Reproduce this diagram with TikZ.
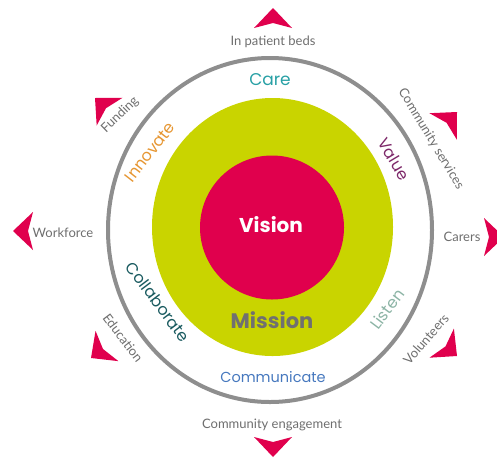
\documentclass[tikz,border=0pt]{standalone}
\usepackage{fontspec}
\setmainfont{Poppins}
\newfontfamily\handfont{Lato}

\definecolor{visionred}{RGB}{224,0,77}
\definecolor{missiongreen}{RGB}{201,212,0}
\definecolor{ringgray}{RGB}{142,142,142}
\definecolor{careteal}{RGB}{40,160,165}
\definecolor{commblue}{RGB}{70,120,190}
\definecolor{innoorange}{RGB}{230,150,50}
\definecolor{valueplum}{RGB}{125,40,105}
\definecolor{collabteal}{RGB}{25,90,95}
\definecolor{listensage}{RGB}{140,180,165}
\definecolor{missiongray}{RGB}{112,112,112}
\definecolor{handgray}{RGB}{110,110,110}

\tikzset{
  core/.style = {font = \fontsize{21}{21}\selectfont\bfseries, inner sep = 0pt},
  value/.style = {font = \fontsize{16}{16}\selectfont, inner sep = 0pt},
  area/.style = {font = \handfont\fontsize{13}{13}\selectfont, text = handgray, inner sep = 0pt},
  pointer/.pic = {\fill [visionred] (0,0) -- (-20,19) -- (-15,0) -- (-20,-19) -- cycle;}
}

\begin{document}
\begin{tikzpicture}[x = 1pt, y = -1pt]
    \useasboundingbox (0,0) rectangle (497,459);

    % rings
    \fill [missiongreen] (272.5,227) ellipse [x radius = 120.5pt, y radius = 129pt];
    \fill [visionred] (272,227.5) circle [radius = 72pt];
    \draw [ringgray, line width = 4pt] (270,230) ellipse [x radius = 162pt, y radius = 172pt];

    % core
    \node [core, text = white, font = \fontsize{20}{20}\selectfont\bfseries] (vision) at (271,225) {Vision};
    \node [core, text = missiongray] (mission) at (272,320) {Mission};

    % values
    \node [value, text = careteal, font = \fontsize{17}{17}\selectfont] (care) at (270,80) {Care};
    \node [value, text = commblue, font = \fontsize{14.5}{14.5}\selectfont] (communicate) at (273,377) {Communicate};
    \node [value, text = innoorange, rotate = 52] (innovate) at (150,152) {Innovate};
    \node [value, text = valueplum, rotate = -59] (value) at (394,159) {Value};
    \node [value, text = collabteal, rotate = -53] (collaborate) at (158,302) {Collaborate};
    \node [value, text = listensage, rotate = 53] (listen) at (387,309) {Listen};

    % areas
    \node [area] (beds) at (273,42) {In patient beds};
    \node [area, rotate = -59] (commserv) at (431,139) {Community services};
    \node [area] (carers) at (462,237) {Carers};
    \node [area, rotate = 49] (volunteers) at (426,339) {Volunteers};
    \node [area] (engage) at (272,425) {Community engagement};
    \node [area, rotate = -53] (education) at (123,338) {Education};
    \node [area] (workforce) at (63,233) {Workforce};
    \node [area, rotate = 44] (funding) at (120,115) {Funding};

    % pointers
    \pic [rotate = 90] (ptop) at (273,8) {pointer};
    \pic [rotate = 46] (pupright) at (457,112) {pointer};
    \pic (pright) at (504,237) {pointer};
    \pic [rotate = -40] (plowright) at (457,356) {pointer};
    \pic [rotate = -90] (pbottom) at (273,457) {pointer};
    \pic [rotate = -143] (plowleft) at (91,358) {pointer};
    \pic [rotate = 180] (pleft) at (13,231) {pointer};
    \pic [rotate = 137] (pupleft) at (95,98) {pointer};
\end{tikzpicture}
\end{document}
